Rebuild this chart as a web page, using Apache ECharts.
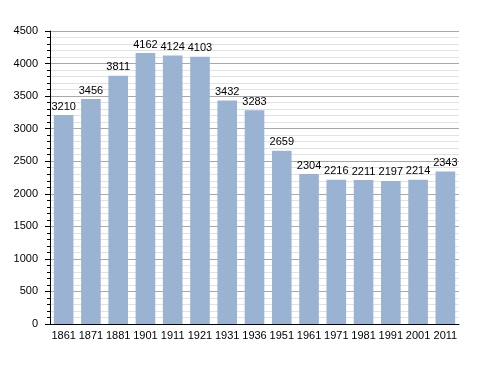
<!DOCTYPE html>
<html><head><meta charset="utf-8">
<script src="https://cdn.jsdelivr.net/npm/echarts@6/dist/echarts.min.js"></script>
<style>html,body{margin:0;padding:0;background:#fff}#c{width:488px;height:373px}</style>
</head><body><div id="c"></div>
<script>
const years = ['1861','1871','1881','1901','1911','1921','1931','1936','1951','1961','1971','1981','1991','2001','2011'];
const population = [3210,3456,3811,4162,4124,4103,3432,3283,2659,2304,2216,2211,2197,2214,2343];
const yTicks = [0,500,1000,1500,2000,2500,3000,3500,4000,4500];

const chart = echarts.init(document.getElementById('c'), null, {renderer:'canvas'});
chart.setOption({
  animation:false,
  backgroundColor:'#fff',
  textStyle:{fontFamily:'Liberation Sans, Arial, sans-serif'},
  grid:{left:50,right:29,top:31,bottom:49,containLabel:false},
  xAxis:{
    type:'category', data:years,
    axisLine:{lineStyle:{color:'#000',width:1}},
    axisTick:{show:false},
    axisLabel:{color:'#000',fontSize:11,margin:6,interval:0}
  },
  yAxis:{
    type:'value', min:yTicks[0], max:yTicks[yTicks.length-1], interval:500,
    axisLine:{show:true,lineStyle:{color:'#000'}},
    axisTick:{show:true,length:5,lineStyle:{color:'#000'}},
    minorTick:{show:true,splitNumber:5,length:3,lineStyle:{color:'#000'}},
    splitLine:{show:true,lineStyle:{color:'#a8a8a8',width:1}},
    minorSplitLine:{show:true,lineStyle:{color:'#e2e2e2',width:1}},
    axisLabel:{color:'#000',fontSize:11,margin:12,formatter:function(v){return String(v);}}
  },
  series:[{
    type:'bar', data:population, barCategoryGap:'28%',
    itemStyle:{color:'#9bb3d2'},
    label:{show:true,position:'top',color:'#000',fontSize:11,distance:3}
  }]
});
</script></body></html>
